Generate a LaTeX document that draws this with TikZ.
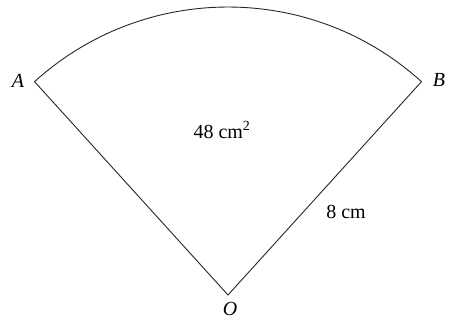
\documentclass[tikz,border=0pt]{standalone}
\usepackage{fontspec}
\setmainfont{Liberation Serif}
\usetikzlibrary{calc}
\begin{document}
\begin{tikzpicture}[x=1pt,y=1pt,
  edge/.style={draw=black!85,line width=0.9pt,line join=miter},
  lbl/.style={font=\fontsize{20}{24}\selectfont,inner sep=0pt}]
\useasboundingbox (0,0) rectangle (449,-322);
\coordinate (O) at (228,-295);
\coordinate (A) at ($(O)+(132.2:288)$);
\coordinate (B) at ($(O)+(47.8:288)$);
\draw[edge] (O) -- (A) arc[start angle=132.2,end angle=47.8,radius=288] -- cycle;
\node[lbl] (la) at (18,-81) {\textit{A}};
\node[lbl] (lb) at (439,-80) {\textit{B}};
\node[lbl] (lo) at (230,-309) {\textit{O}};
\node[lbl] (area) at (222,-130) {48 cm\textsuperscript{2}};
\node[lbl] (len) at (346,-212) {8 cm};
\end{tikzpicture}
\end{document}
